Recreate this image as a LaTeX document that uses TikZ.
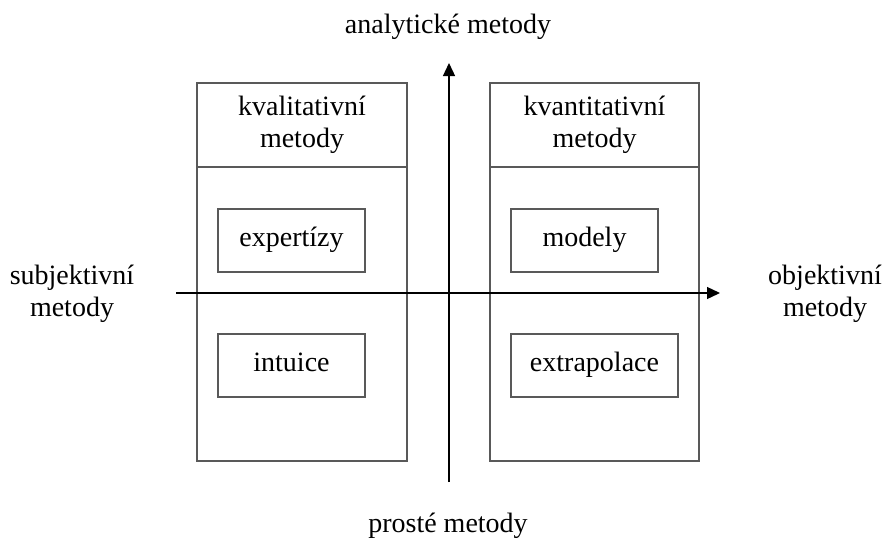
\documentclass[tikz,border=0pt]{standalone}
\usepackage{fontspec}
\setmainfont{Liberation Serif}
\usetikzlibrary{arrows.meta}

\tikzset{
  ramec/.style={draw=black!65, line width=1.4pt, inner sep=0pt, align=center},
  pole/.style={ramec, minimum height=63pt, text height=18pt, text depth=7pt},
  popis/.style={inner sep=0pt, align=center},
  osa/.style={line width=1.3pt, -{Triangle[length=13pt,width=12pt]}}
}

\begin{document}
\begin{tikzpicture}[x=1pt, y=-1pt, font=\fontsize{28}{32}\selectfont]
\useasboundingbox (0,0) rectangle (883,541);
\begin{scope}[every node/.style={ramec}]
    %kvalitativni
    \node[minimum width=210pt, minimum height=84pt] (kval) at (302,125) {kvalitativní\\metody};
    \node[minimum width=210pt, minimum height=294pt] (levy) at (302,314) {};
    \node[pole, minimum width=147pt] (expert) at (291.5,240.5) {expertízy};
    \node[pole, minimum width=147pt] (intuice) at (291.5,365.5) {intuice};
    %kvantitativni
    \node[minimum width=209pt, minimum height=84pt] (kvant) at (594.5,125) {kvantitativní\\metody};
    \node[minimum width=209pt, minimum height=294pt] (pravy) at (594.5,314) {};
    \node[pole, minimum width=147pt] (modely) at (584.5,240.5) {modely};
    \node[pole, minimum width=167pt] (extrap) at (594.5,365.5) {extrapolace};
\end{scope}
\begin{scope}[every node/.style={popis}]
    %popisky os
    \node (analyt) at (448,27) {analytické metody};
    \node (proste) at (448,526) {prosté metody};
    \node (subj) at (72,294) {subjektivní\\metody};
    \node (obj) at (825,294) {objektivní\\metody};
\end{scope}
    %osy
    \coordinate (dole) at (449,482);
    \coordinate (nahore) at (449,63);
    \coordinate (vlevo) at (176,293);
    \coordinate (vpravo) at (720,293);
    \draw[osa] (dole) -- (nahore);
    \draw[osa] (vlevo) -- (vpravo);
\end{tikzpicture}
\end{document}
